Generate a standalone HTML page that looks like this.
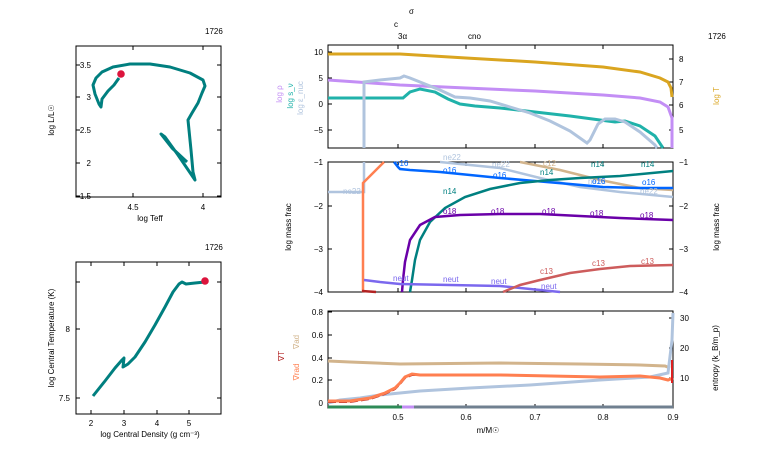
<!DOCTYPE html>
<html><head><meta charset="utf-8"><style>
body{margin:0;background:#fff}
svg{display:block}
text{font-family:"Liberation Sans",sans-serif;font-size:8px;fill:#000}
</style></head><body>
<svg width="766" height="460" viewBox="0 0 766 460" xmlns="http://www.w3.org/2000/svg">
<g fill="none" stroke="#000" stroke-width="1">
<rect x="76" y="46" width="145" height="151"/>
<rect x="76" y="262" width="145" height="152"/>
<rect x="328" y="45" width="345" height="103"/>
<rect x="328" y="162" width="345" height="130"/>
<rect x="328" y="311" width="345" height="97"/>
<path d="M76 65h4M76 97h4M76 130h4M76 163h4M76 196h4M221 65h-4M221 97h-4M221 130h-4M221 163h-4M221 196h-4M133 197v-4M203 197v-4M133 46v4M203 46v4"/>
<path d="M76 329h4M76 398h4M221 329h-4M221 398h-4M91 414v-4M124 414v-4M157 414v-4M189 414v-4M91 262v4M124 262v4M157 262v4M189 262v4M221 282h-4M76 282h4"/>
<path d="M328 52h4M328 78h4M328 104h4M328 130h4M673 59h-4M673 82h-4M673 105h-4M673 130h-4"/>
<path d="M328 206h4M328 249h4M673 206h-4M673 249h-4"/>
<path d="M328 312h4M328 335h4M328 358h4M328 380h4M328 403h4M673 318h-4M673 348h-4M673 378h-4"/>
<path d="M398 408v-4M466 408v-4M535 408v-4M603 408v-4M398 292v-4M466 292v-4M535 292v-4M603 292v-4M398 162v4M466 162v4M535 162v4M603 162v4M398 148v-4M466 148v-4M535 148v-4M603 148v-4M398 45v4M466 45v4M535 45v4M603 45v4M398 311v4M466 311v4M535 311v4M603 311v4"/>
</g>
<polyline fill="none" stroke="#007f7f" stroke-width="3" stroke-linejoin="round" points="187,162 172,148 161,134 165,137 178,155 195,180 193,172 191,150 189,130 188,120 192,113 198,103 202,93 205,86 203,80 190,73 170,67 150,64 130,64 113,67 102,72 96,78 93,85 95,94 99,104 101,107 102,99 108,91 114,85 119,78"/>
<circle cx="121" cy="74" r="3.8" fill="#dc143c"/>
<text x="205" y="34">1726</text>
<text x="91" y="68" text-anchor="end">3.5</text><text x="91" y="100" text-anchor="end">3</text><text x="91" y="133" text-anchor="end">2.5</text><text x="91" y="166" text-anchor="end">2</text><text x="91" y="199" text-anchor="end">1.5</text>
<text x="133" y="210" text-anchor="middle">4.5</text><text x="203" y="210" text-anchor="middle">4</text>
<text x="150" y="221" text-anchor="middle">log Teff</text>
<text transform="translate(54,120) rotate(-90)" text-anchor="middle">log L/L☉</text>
<polyline fill="none" stroke="#007f7f" stroke-width="3" stroke-linejoin="round" points="93,396 105,381 115,368 122,360 124,358 123,367 128,364 135,357 145,342 155,325 165,307 173,292 179,284 182,282 186,284 195,283 205,282"/>
<circle cx="205" cy="281" r="3.8" fill="#dc143c"/>
<text x="205" y="250">1726</text>
<text x="70" y="332" text-anchor="end">8</text><text x="70" y="401" text-anchor="end">7.5</text>
<text x="91" y="426" text-anchor="middle">2</text><text x="124" y="426" text-anchor="middle">3</text><text x="157" y="426" text-anchor="middle">4</text><text x="189" y="426" text-anchor="middle">5</text>
<text x="150" y="437" text-anchor="middle">log Central Density (g cm⁻³)</text>
<text transform="translate(54,338) rotate(-90)" text-anchor="middle">log Central Temperature (K)</text>
<text x="409" y="14">σ</text><text x="394" y="27">c</text><text x="398" y="39">3α</text><text x="468" y="39">cno</text><text x="708" y="39">1726</text>
<polyline fill="none" stroke="#daa520" stroke-width="3" points="328,54 400,54 466,58 535,62 603,67 640,72 660,78 668,82 671,88 672,97"/>
<polyline fill="none" stroke="#c38ef5" stroke-width="3" points="328,80 400,85 466,88 535,91 603,95 640,98 660,102 668,107 672,118 672,148"/>
<polyline fill="none" stroke="#20b2aa" stroke-width="3" points="328,98 380,98 403,98 410,92 420,89 435,92 448,99 460,104 475,106 500,108 535,112 570,116 600,120 615,122 625,121 640,126 655,136 663,148"/>
<polyline fill="none" stroke="#b0c4de" stroke-width="3" points="364,148 364,82 380,80 400,78 404,76 410,78 425,84 440,90 455,97 470,98 490,101 510,107 530,113 550,121 570,131 587,143 590,140 598,124 605,119 615,119 625,122 640,132 655,145 657,148"/>
<text x="323" y="55" text-anchor="end">10</text><text x="323" y="81" text-anchor="end">5</text><text x="323" y="107" text-anchor="end">0</text><text x="323" y="133" text-anchor="end">−5</text>
<text x="679" y="62">8</text><text x="679" y="85">7</text><text x="679" y="108">6</text><text x="679" y="133">5</text>
<text transform="translate(282,94) rotate(-90)" text-anchor="middle" style="fill:#c38ef5">log ρ</text>
<text transform="translate(293,96) rotate(-90)" text-anchor="middle" style="fill:#20b2aa">log s_ν</text>
<text transform="translate(303,98) rotate(-90)" text-anchor="middle" style="fill:#b0c4de">log ε_nuc</text>
<text transform="translate(719,96) rotate(-90)" text-anchor="middle" style="fill:#daa520">log T</text>
<g fill="none" stroke-width="2.5">
<polyline stroke="#b0c4de" points="328,192 364,192 364,162"/>
<polyline stroke="#b0c4de" points="440,162 500,168 540,178 580,187 620,192 673,197"/>
<polyline stroke="#ff7f50" points="363,292 363,183 384,162"/>
<polyline stroke="#b22222" points="362,291 376,292"/>
<polyline stroke="#d2b48c" points="520,162 560,170 600,180 640,188 673,190"/>
<polyline stroke="#0066ff" points="394,162 398,167 400,169 410,170 440,172 470,175 500,178 535,181 570,184 603,187 640,188 673,188"/>
<polyline stroke="#008080" points="410,292 412,280 415,260 420,240 430,222 445,208 465,197 490,189 520,183 550,180 580,178 620,176 673,171"/>
<polyline stroke="#6a00a8" points="402,292 403,280 405,262 410,240 420,225 435,217 460,215 500,214 540,214 580,216 620,218 673,220"/>
<polyline stroke="#7b68ee" points="364,280 380,282 400,284 450,285 500,286 540,290 560,292"/>
<polyline stroke="#cd5c5c" points="503,292 520,285 540,280 570,273 600,269 630,266 673,265"/>
</g>
<g style="font-size:8px">
<text x="343" y="194" style="fill:#b0c4de">ne22</text><text x="443" y="160" style="fill:#b0c4de">ne22</text><text x="492" y="167" style="fill:#b0c4de">ne22</text><text x="588" y="184" style="fill:#b0c4de">ne22</text><text x="640" y="194" style="fill:#b0c4de">ne22</text>
<text x="395" y="166" style="fill:#0066ff">o16</text><text x="443" y="173" style="fill:#0066ff">o16</text><text x="493" y="178" style="fill:#0066ff">o16</text><text x="592" y="184" style="fill:#0066ff">o16</text><text x="642" y="185" style="fill:#0066ff">o16</text>
<text x="443" y="194" style="fill:#008080">n14</text><text x="540" y="175" style="fill:#008080">n14</text><text x="591" y="167" style="fill:#008080">n14</text><text x="641" y="167" style="fill:#008080">n14</text>
<text x="543" y="166" style="fill:#d2b48c">c12</text>
<text x="443" y="214" style="fill:#6a00a8">o18</text><text x="491" y="214" style="fill:#6a00a8">o18</text><text x="542" y="214" style="fill:#6a00a8">o18</text><text x="590" y="216" style="fill:#6a00a8">o18</text><text x="640" y="218" style="fill:#6a00a8">o18</text>
<text x="393" y="281" style="fill:#7b68ee">neut</text><text x="443" y="282" style="fill:#7b68ee">neut</text><text x="491" y="284" style="fill:#7b68ee">neut</text><text x="541" y="289" style="fill:#7b68ee">neut</text>
<text x="540" y="274" style="fill:#cd5c5c">c13</text><text x="592" y="266" style="fill:#cd5c5c">c13</text><text x="641" y="264" style="fill:#cd5c5c">c13</text>
</g>
<text x="323" y="165" text-anchor="end">−1</text><text x="323" y="209" text-anchor="end">−2</text><text x="323" y="252" text-anchor="end">−3</text><text x="323" y="295" text-anchor="end">−4</text>
<text x="679" y="165">−1</text><text x="679" y="209">−2</text><text x="679" y="252">−3</text><text x="679" y="295">−4</text>
<text transform="translate(291,227) rotate(-90)" text-anchor="middle">log mass frac</text>
<text transform="translate(719,227) rotate(-90)" text-anchor="middle">log mass frac</text>
<g fill="none" stroke-width="3">
<polyline stroke="#d2b48c" points="328,361 350,362 400,364 500,363 580,364 640,365 665,366 670,368"/>
<polyline stroke="#b0c4de" points="328,403 340,400 360,398 380,395 400,393 420,391 470,388 530,385 600,380 650,377 668,373 672,340 673,313"/>
<polyline stroke="#b22222" stroke-width="2" stroke-dasharray="8 3" points="328,402 350,402 370,399 385,394 395,389 400,384 405,378 412,375 420,375 500,375 600,377 640,376 660,378 668,380 673,378"/>
<polyline stroke="#ff7f50" points="328,401 350,401 370,398 385,393 395,388 400,383 405,377 412,374 420,375 500,375 600,377 640,376 660,378 668,380 673,378"/>
<polyline stroke="#dc2020" stroke-width="2" points="672,360 672,383"/>
<polyline stroke="#2e8b57" points="328,407 402,407"/>
<polyline stroke="#c38ef5" points="402,407 414,407"/>
<polyline stroke="#708090" points="414,407 673,407"/>
</g>
<text x="323" y="315" text-anchor="end">0.8</text><text x="323" y="338" text-anchor="end">0.6</text><text x="323" y="361" text-anchor="end">0.4</text><text x="323" y="383" text-anchor="end">0.2</text><text x="323" y="406" text-anchor="end">0</text>
<text x="680" y="321">30</text><text x="680" y="351">20</text><text x="680" y="381">10</text>
<text x="398" y="420" text-anchor="middle">0.5</text><text x="466" y="420" text-anchor="middle">0.6</text><text x="535" y="420" text-anchor="middle">0.7</text><text x="603" y="420" text-anchor="middle">0.8</text><text x="673" y="420" text-anchor="middle">0.9</text>
<text x="488" y="433" text-anchor="middle">m/M☉</text>
<text transform="translate(299,342) rotate(-90)" text-anchor="middle" style="fill:#d2b48c">∇ad</text>
<text transform="translate(284,356) rotate(-90)" text-anchor="middle" style="fill:#b22222">∇T</text>
<text transform="translate(299,372) rotate(-90)" text-anchor="middle" style="fill:#ff7f50">∇rad</text>
<text transform="translate(718,358) rotate(-90)" text-anchor="middle">entropy (k_B/m_p)</text>
</svg>
</body></html>
